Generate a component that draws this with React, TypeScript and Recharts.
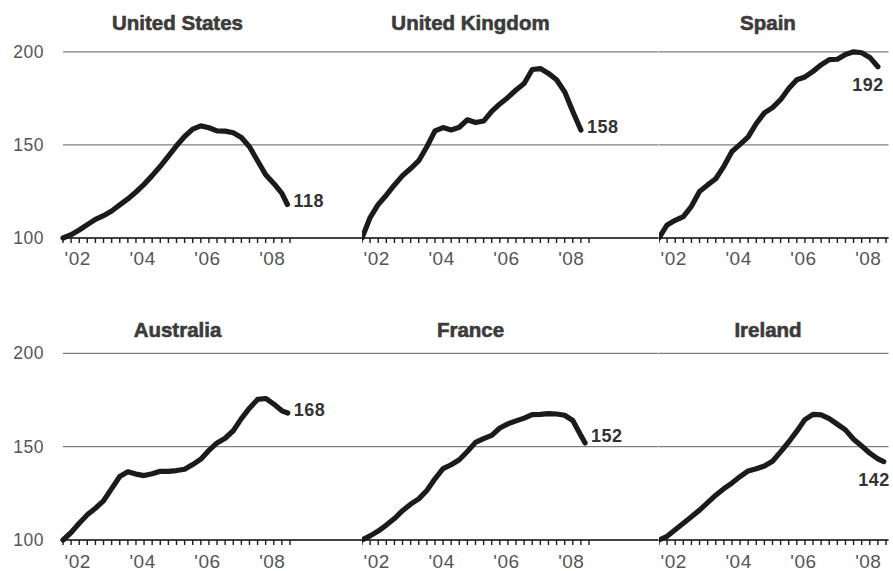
import React from 'react';
import { LineChart, Line, XAxis, YAxis, CartesianGrid } from 'recharts';

// ---- data ----
const QUARTERS = [
  2002, 2002.25, 2002.5, 2002.75, 2003, 2003.25, 2003.5, 2003.75,
  2004, 2004.25, 2004.5, 2004.75, 2005, 2005.25, 2005.5, 2005.75,
  2006, 2006.25, 2006.5, 2006.75, 2007, 2007.25, 2007.5, 2007.75,
  2008, 2008.25, 2008.5, 2008.75,
];

const X_TICKS = [
  2002, 2002.25, 2002.5, 2002.75, 2003, 2003.25, 2003.5, 2003.75,
  2004, 2004.25, 2004.5, 2004.75, 2005, 2005.25, 2005.5, 2005.75,
  2006, 2006.25, 2006.5, 2006.75, 2007, 2007.25, 2007.5, 2007.75,
  2008, 2008.25, 2008.5, 2008.75, 2009,
];
const YEAR_LABEL_TICKS = [2002.5, 2004.5, 2006.5, 2008.5];
const YEAR_LABELS = ["'02", "'04", "'06", "'08"];
const Y_TICKS = [100, 150, 200];

const US_VALUES = [100, 101.8, 104.3, 107.2, 110, 112, 114.5, 117.8, 121, 124.7, 128.8, 133.5, 138.5, 144, 149.5, 154.5, 158.5, 160.2, 159.2, 157.5, 157.4, 156.5, 154, 149, 141.5, 134, 129.3, 124];
const US_END = { date: 2008.92, value: 118 };

const UK_VALUES = [100, 111, 118, 123, 128.5, 133.5, 137.3, 141.5, 149, 157.5, 159.3, 158, 159.5, 163.5, 162, 162.8, 168, 172, 175.5, 179.5, 183, 190.5, 191, 188.4, 185, 178.5, 168, 158];

const SPAIN_VALUES = [100, 107, 109.5, 111.5, 117, 125, 128.5, 131.8, 138.5, 146.5, 150.3, 154.3, 161.5, 167.2, 170, 174.3, 180.3, 185, 186.5, 189.5, 193, 195.8, 196, 198.6, 200, 199.5, 197, 192];

const AUSTRALIA_VALUES = [100, 104, 109, 113.5, 117, 121, 127.5, 134, 136.5, 135.3, 134.5, 135.5, 136.8, 136.8, 137.2, 137.9, 140.4, 143.3, 148, 152, 154.5, 158.5, 165, 170.6, 175.3, 175.8, 172.8, 169.2];
const AUSTRALIA_END = { date: 2008.93, value: 168 };

const FRANCE_VALUES = [100, 102.2, 104.8, 108, 111.5, 115.7, 119.2, 122, 126.5, 132.8, 138.2, 140.3, 143, 147.4, 152.3, 154.3, 156, 160, 162.2, 163.8, 165.3, 167.2, 167.3, 167.7, 167.5, 166.8, 164, 156];
const FRANCE_END = { date: 2008.88, value: 152 };

const IRELAND_VALUES = [100, 102, 105.5, 109, 112.5, 116, 120, 124, 127.5, 130.5, 134, 137, 138.2, 139.6, 142.2, 147.2, 152.5, 158.3, 164.5, 167.3, 167, 165, 162, 159, 154, 150.3, 146.5, 143.5];
const IRELAND_END = { date: 2008.93, value: 142 };

type Pt = { date: number; value: number };
const build = (vals: number[], end?: Pt): Pt[] => {
  const pts = QUARTERS.map((d, i) => ({ date: d, value: vals[i] }));
  return end ? [...pts, end] : pts;
};

// ---- layout ----
const W = 893;
const H = 571;
const YEAR_PX = 227 / 7;
const COL_PLOT_LEFT = [63, 362, 658.5];
const COL_PLOT_RIGHT = [362, 658.5, 888];
const COL_SVG_LEFT = [0, 362, 658.5];
const COL_SVG_RIGHT = [362, 658.5, 893];
const TITLE_CX = [177.5, 470.5, 768];
const ROW_TOP = [0, 290];
const ROW_BOTTOM = [290, 571];
const ROW_PLOT_TOP = [51.8, 353.3];
const ROW_PLOT_BOTTOM = [238, 540];
const ROW_TITLE_Y = [29.5, 336.5];
const ROW_XLABEL_DY = [26.5, 28];
const TICK_LEN = 5;

const FONT = '"Liberation Sans", Arial, Helvetica, sans-serif';
const LINE_COLOR = '#1b1b1b';

type Panel = {
  name: string;
  data: Pt[];
  row: number;
  col: number;
  place: 'right' | 'below';
  labelDy: number;
};

const PANELS: Panel[] = [
  { name: 'United States', data: build(US_VALUES, US_END), row: 0, col: 0, place: 'right', labelDy: 2.5 },
  { name: 'United Kingdom', data: build(UK_VALUES), row: 0, col: 1, place: 'right', labelDy: 2.5 },
  { name: 'Spain', data: build(SPAIN_VALUES), row: 0, col: 2, place: 'below', labelDy: 24.5 },
  { name: 'Australia', data: build(AUSTRALIA_VALUES, AUSTRALIA_END), row: 1, col: 0, place: 'right', labelDy: 2.5 },
  { name: 'France', data: build(FRANCE_VALUES, FRANCE_END), row: 1, col: 1, place: 'right', labelDy: -0.5 },
  { name: 'Ireland', data: build(IRELAND_VALUES, IRELAND_END), row: 1, col: 2, place: 'below', labelDy: 24 },
];

const makeXTick = (labelDy: number, axisY: number) => (props: any) => {
  const { x, payload } = props;
  const idx = YEAR_LABEL_TICKS.indexOf(payload.value);
  if (idx < 0) return <g />;
  return (
    <text
      x={x - 1.5}
      y={axisY + labelDy}
      textAnchor="middle"
      fontFamily={FONT}
      fontSize={19}
      letterSpacing={0.5}
      fill="#555"
    >
      {YEAR_LABELS[idx]}
    </text>
  );
};

const YTick = (props: any) => {
  const { x, y, payload } = props;
  return (
    <text
      x={x - 19}
      y={y + 6}
      textAnchor="end"
      fontFamily={FONT}
      fontSize={17.5}
      letterSpacing={0.5}
      fill="#555"
    >
      {payload.value}
    </text>
  );
};

const makeEndDot = (len: number, place: 'right' | 'below', labelDy: number) => (props: any) => {
  const { cx, cy, index, value } = props;
  if (index !== len - 1) return <g key={`d${index}`} />;
  const v = Array.isArray(value) ? value[1] : value;
  return (
    <text
      key={`d${index}`}
      x={cx + 6}
      y={cy + labelDy}
      textAnchor={place === 'right' ? 'start' : 'end'}
      fontFamily={FONT}
      fontWeight="bold"
      fontSize={18}
      letterSpacing={0.5}
      fill="#333"
    >
      {Math.round(v)}
    </text>
  );
};

const PanelChart = ({ p }: { p: Panel }) => {
  const svgLeft = COL_SVG_LEFT[p.col];
  const svgWidth = COL_SVG_RIGHT[p.col] - svgLeft;
  const plotLeft = COL_PLOT_LEFT[p.col];
  const plotRight = COL_PLOT_RIGHT[p.col];
  const top = ROW_TOP[p.row];
  const height = ROW_BOTTOM[p.row] - top;
  const marginTop = ROW_PLOT_TOP[p.row] - top;
  const axisY = ROW_PLOT_BOTTOM[p.row] - top;
  const xAxisHeight = ROW_BOTTOM[p.row] - ROW_PLOT_BOTTOM[p.row];
  const yAxisWidth = p.col === 0 ? plotLeft - svgLeft : 0;
  const marginRight = COL_SVG_RIGHT[p.col] - plotRight;
  const domainEnd = 2002 + (plotRight - plotLeft) / YEAR_PX;

  return (
    <div style={{ position: 'absolute', left: svgLeft, top }}>
      <LineChart
        width={svgWidth}
        height={height}
        data={p.data}
        margin={{ top: marginTop, right: marginRight, bottom: 0, left: 0 }}
      >
        <CartesianGrid vertical={false} stroke="#808080" strokeWidth={1.2} />
        <XAxis
          dataKey="date"
          type="number"
          domain={[2002, domainEnd]}
          ticks={X_TICKS}
          interval={0}
          height={xAxisHeight}
          tickLine={{ stroke: '#1e1e1e', strokeWidth: 1.4 }}
          tickSize={TICK_LEN}
          tickMargin={0}
          axisLine={{ stroke: '#1a1a1a', strokeWidth: 1.5 }}
          tick={makeXTick(ROW_XLABEL_DY[p.row], axisY)}
        />
        {p.col === 0 ? (
          <YAxis
            type="number"
            domain={[100, 200]}
            ticks={Y_TICKS}
            width={yAxisWidth}
            axisLine={false}
            tickLine={false}
            tickSize={0}
            tickMargin={0}
            tick={YTick}
          />
        ) : (
          <YAxis type="number" domain={[100, 200]} ticks={Y_TICKS} hide />
        )}
        <Line
          type="linear"
          dataKey="value"
          stroke={LINE_COLOR}
          strokeWidth={5.2}
          strokeLinecap="round"
          strokeLinejoin="round"
          dot={makeEndDot(p.data.length, p.place, p.labelDy)}
          activeDot={false}
          isAnimationActive={false}
        />
      </LineChart>
    </div>
  );
};

export default function App() {
  return (
    <div
      style={{
        position: 'absolute',
        left: 0,
        top: 0,
        width: W,
        height: H,
        overflow: 'hidden',
        background: '#fff',
      }}
    >
      {PANELS.map((p) => (
        <PanelChart key={p.name} p={p} />
      ))}
      <svg
        width={W}
        height={H}
        style={{ position: 'absolute', left: 0, top: 0, pointerEvents: 'none' }}
      >
        {PANELS.map((p) => (
          <text
            key={p.name}
            x={TITLE_CX[p.col]}
            y={ROW_TITLE_Y[p.row]}
            textAnchor="middle"
            fontFamily={FONT}
            fontWeight="bold"
            fontSize={20.5}
            fill="#3b3b3b"
            stroke="#3b3b3b"
            strokeWidth={0.6}
          >
            {p.name}
          </text>
        ))}
      </svg>
    </div>
  );
}
